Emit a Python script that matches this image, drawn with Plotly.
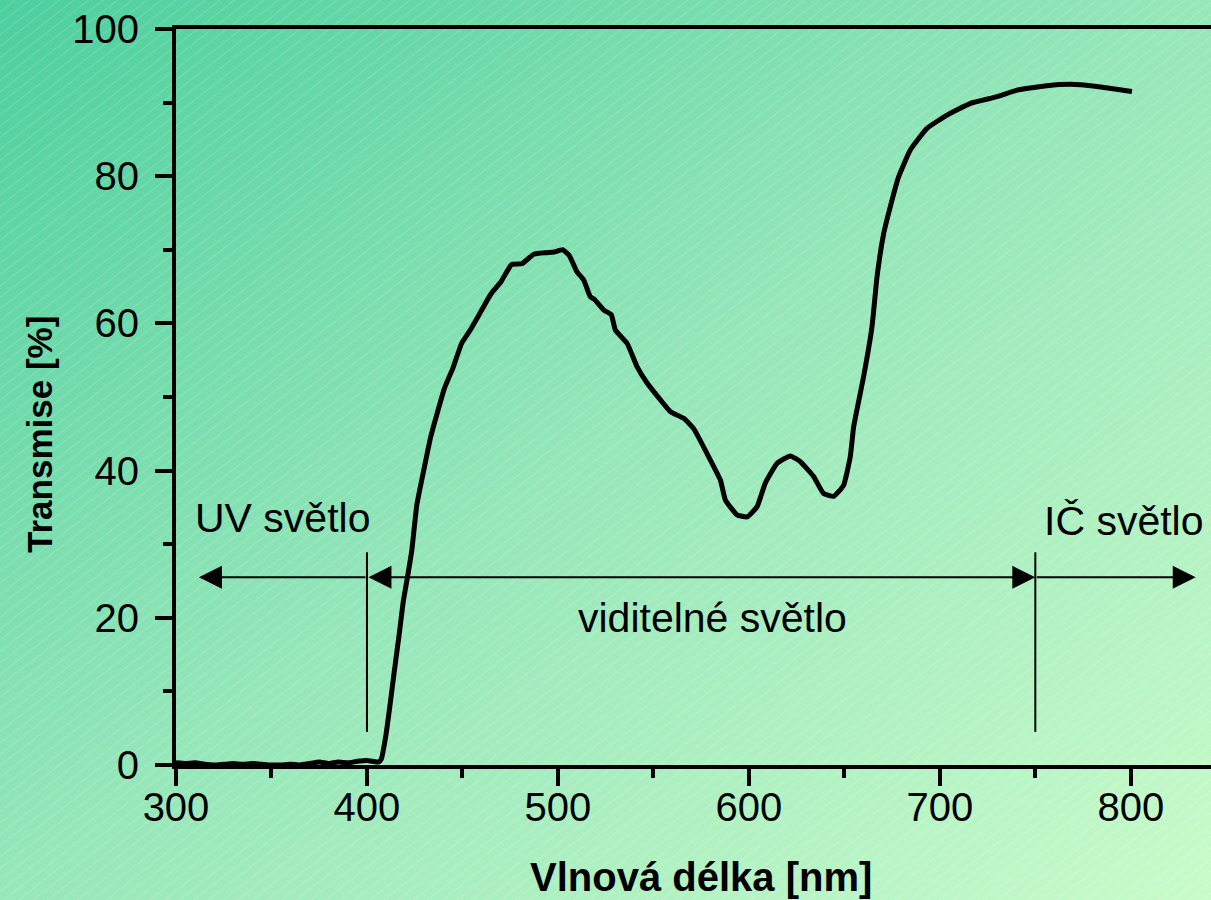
import base64
import plotly.graph_objects as go

# ---------------- data ----------------
wavelength_nm = [300, 305, 310, 315, 320, 325, 330, 335, 340, 345, 350, 355, 360, 365,
                 370, 375, 380, 385, 390, 395, 400, 403, 406, 407.5,
                 409.9, 412, 414.4, 417, 419.0, 421.2, 423.5, 426.1, 429.7, 433.4,
                 436.9, 440.6, 445.1, 449.6, 454.1, 459.4, 464.9, 470.3, 475.7, 481.1,
                 487.4, 493.7, 498, 502.5, 506, 510, 513.5, 517.0, 519, 524.0, 527.9,
                 530.1, 536.2, 541.5, 546.7, 553.7, 558.9, 565.9, 571.1, 578.1, 585.1,
                 587.7, 593.8, 599.1, 604.3, 608.6, 614.8, 621.7, 627.0, 633.9, 639.1,
                 644.4, 649.6, 653.1, 654.9, 660.1, 664.5, 667.1, 670.6, 674.1, 678.4,
                 684.6, 693.3, 703.8, 716.0, 730.0, 740.4, 756.1, 768.3, 782.3, 800.6]
transmission_pct = [0.3, 0.2, 0.3, 0.1, 0.0, 0.1, 0.2, 0.1, 0.2, 0.1, 0.0, 0.0, 0.1, 0.0,
                    0.2, 0.4, 0.2, 0.4, 0.3, 0.5, 0.6, 0.5, 0.4, 0.8,
                    4.0, 8.0, 12.9, 18.0, 22.2, 25.5, 29.2, 35.3, 40.0, 44.6,
                    47.9, 51.2, 54.0, 57.3, 59.1, 61.5, 64.0, 65.7, 68.0, 68.1,
                    69.4, 69.6, 69.7, 70.0, 69.2, 67.0, 65.9, 63.6, 63.3, 61.8, 61.2,
                    59.1, 57.3, 54.1, 51.9, 49.6, 48.0, 47.1, 45.7, 42.3, 38.7,
                    36.0, 34.0, 33.7, 35.1, 38.3, 41.0, 42.0, 41.2, 39.2, 36.9,
                    36.5, 38.0, 41.9, 46.0, 52.8, 59.6, 66.3, 72.2, 75.9, 79.9,
                    83.6, 86.5, 88.3, 89.9, 90.8, 91.7, 92.3, 92.5, 92.2, 91.5]

x_ticks = [300, 400, 500, 600, 700, 800]
y_ticks = [0, 20, 40, 60, 80, 100]

region_boundaries = [400, 750]          # UV | visible | IR
boundary_line_span = [4.5, 28.9]        # vertical extent of boundary lines (%)
arrow_level = 25.5                      # height of the arrows (%)
uv_arrow_end = 312
ir_arrow_end = 834

region_labels = ["UV světlo", "viditelné světlo", "IČ světlo"]
label_x = [356, 581, 796.6]
label_y = [33.6, 20.0, 33.2]

x_title = "Vlnová délka [nm]"
y_title = "Transmise [%]"

# ---------------- layout geometry ----------------
W, H = 1211, 900
ML, MR, MT, MB = 176, 0, 29, 135
PW, PH = W - ML - MR, H - MT - MB
FONT = "Liberation Sans, Arial, sans-serif"

# gradient background with faint diagonal hatch
svg = f'''<svg xmlns="http://www.w3.org/2000/svg" width="{W}" height="{H}">
<defs>
<linearGradient id="g" x1="0" y1="0" x2="1" y2="1">
<stop offset="0" stop-color="#4ccf9e"/>
<stop offset="0.5" stop-color="#97e7ba"/>
<stop offset="1" stop-color="#c9fbca"/>
</linearGradient>
<pattern id="p" width="9" height="9" patternUnits="userSpaceOnUse" patternTransform="rotate(-38)">
<line x1="0" y1="0.5" x2="9" y2="0.5" stroke="white" stroke-opacity="0.16" stroke-width="1"/>
</pattern>
</defs>
<rect width="{W}" height="{H}" fill="url(#g)"/>
<rect width="{W}" height="{H}" fill="url(#p)"/>
</svg>'''
bg_src = "data:image/svg+xml;base64," + base64.b64encode(svg.encode("utf-8")).decode("ascii")

fig = go.Figure()
fig.add_trace(go.Scatter(x=wavelength_nm, y=transmission_pct, mode="lines",
                         line=dict(color="black", width=5, shape="spline", smoothing=0.4),
                         hoverinfo="skip", showlegend=False))

# boundary lines
for xb in region_boundaries:
    fig.add_shape(type="line", xref="x", yref="y", x0=xb, x1=xb,
                  y0=boundary_line_span[0], y1=boundary_line_span[1],
                  line=dict(color="black", width=2))

arrow_common = dict(xref="x", yref="y", axref="x", ayref="y", text="", showarrow=True,
                    arrowhead=2, arrowsize=2.3, arrowwidth=2, arrowcolor="black", standoff=0)
fig.add_annotation(x=uv_arrow_end, y=arrow_level, ax=region_boundaries[0], ay=arrow_level,
                   **arrow_common)
fig.add_annotation(x=region_boundaries[1], y=arrow_level, ax=region_boundaries[0], ay=arrow_level,
                   arrowside="end+start", startarrowhead=2, startarrowsize=2.3, startstandoff=0,
                   **arrow_common)
fig.add_annotation(x=ir_arrow_end, y=arrow_level, ax=region_boundaries[1], ay=arrow_level,
                   **arrow_common)

for txt, lx, ly in zip(region_labels, label_x, label_y):
    fig.add_annotation(x=lx, y=ly, xref="x", yref="y", text=txt, showarrow=False,
                       xanchor="center", yanchor="middle",
                       font=dict(family=FONT, size=41, color="black"))

# axis titles
fig.add_annotation(x=(701 - ML) / PW, y=(765 - 876.5) / PH, xref="paper", yref="paper",
                   text=f"<b>{x_title}</b>", showarrow=False, xanchor="center", yanchor="middle",
                   font=dict(family=FONT, size=40, color="black"))
fig.add_annotation(x=(40 - ML) / PW, y=(765 - 435) / PH, xref="paper", yref="paper",
                   text=f"<b>{y_title}</b>", showarrow=False, textangle=-90,
                   xanchor="center", yanchor="middle",
                   font=dict(family=FONT, size=35, color="black"))

axis_common = dict(showgrid=False, zeroline=False, showline=True, linecolor="black",
                   linewidth=4, ticks="outside", ticklen=17, tickwidth=4, tickcolor="black",
                   tickfont=dict(family=FONT, size=40, color="black"))

fig.update_xaxes(range=[300, 842], tickvals=x_ticks, ticktext=[str(v) for v in x_ticks],
                 mirror=True, ticklabelstandoff=-13,
                 minor=dict(dtick=50, ticks="outside", ticklen=9, tickwidth=4, tickcolor="black"),
                 **axis_common)
fig.update_yaxes(range=[0, 100], tickvals=y_ticks, ticktext=[str(v) for v in y_ticks],
                 ticklabelstandoff=8,
                 minor=dict(dtick=10, ticks="outside", ticklen=9, tickwidth=4, tickcolor="black"),
                 **axis_common)

fig.update_layout(width=W, height=H, margin=dict(l=ML, r=MR, t=MT, b=MB, pad=0),
                  paper_bgcolor="#97e7ba", plot_bgcolor="rgba(0,0,0,0)",
                  images=[dict(source=bg_src, xref="paper", yref="paper",
                               x=-ML / PW, y=1 + MT / PH, sizex=W / PW, sizey=H / PH,
                               xanchor="left", yanchor="top", sizing="stretch", layer="below")],
                  font=dict(family=FONT, color="black"))

fig.write_html("out.html", config={"displayModeBar": False},
               post_script="document.body.style.margin='0';document.body.style.overflow='hidden';")
